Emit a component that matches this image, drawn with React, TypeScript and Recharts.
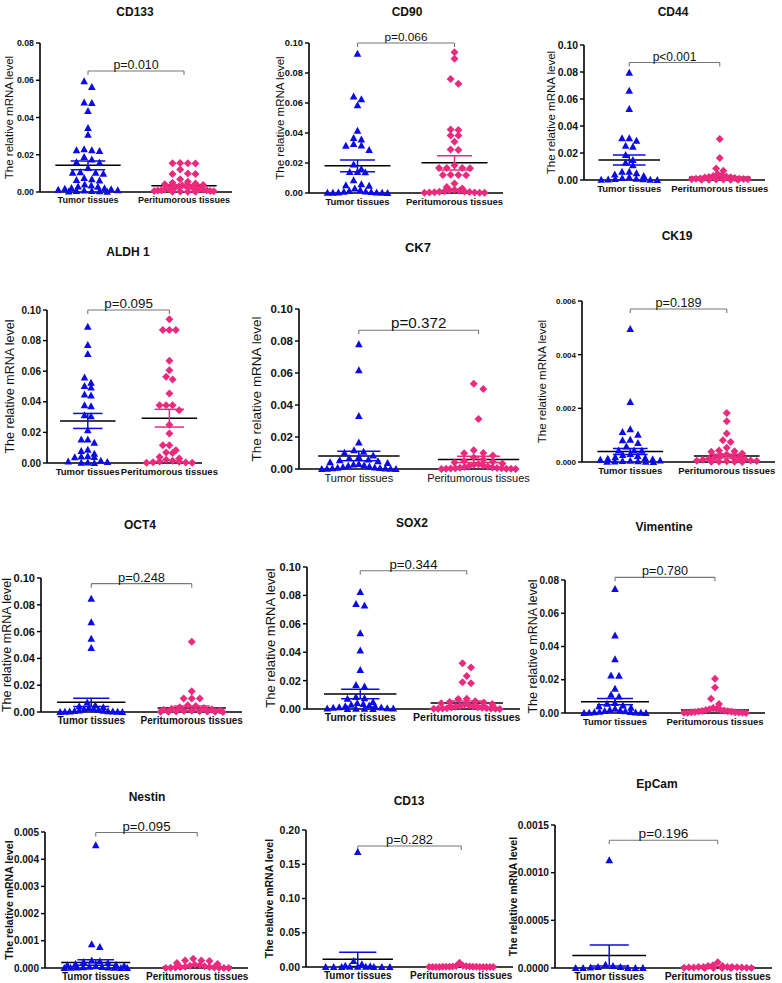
import React from "react";
import { ScatterChart, Scatter, XAxis, YAxis, ReferenceLine } from "recharts";

const groups = ["Tumor tissues", "Peritumorous tissues"];
const BLUE = "#0b0be8";
const PINK = "#ec2a7d";

// values (relative mRNA level)
const cd133Tumor = [0.0594, 0.0564, 0.0478, 0.048, 0.0435, 0.0344, 0.0308, 0.0224, 0.022, 0.0224, 0.0229, 0.0188, 0.0174, 0.016, 0.0157, 0.0129, 0.0106, 0.0098, 0.0104, 0.0104, 0.0075, 0.0065, 0.0068, 0.0062, 0.004, 0.0035, 0.003, 0.0028, 0.0022, 0.002, 0.0018, 0.0015, 0.0012, 0.001, 0.0008, 0.0006, 0.0005, 0.0004, 0.0003, 0.0002];
const cd133Peri = [0.0156, 0.0155, 0.0153, 0.0154, 0.0121, 0.0099, 0.0097, 0.0096, 0.0068, 0.0055, 0.005, 0.0046, 0.0042, 0.0038, 0.0035, 0.0032, 0.003, 0.0028, 0.0026, 0.0024, 0.0022, 0.002, 0.0018, 0.0016, 0.0014, 0.0012, 0.001, 0.0009, 0.0008, 0.0006, 0.0005, 0.0004, 0.0003, 0.0002, 0.0001, 0.0001];
const cd90Tumor = [0.0929, 0.0643, 0.0625, 0.0585, 0.0415, 0.0366, 0.0357, 0.0326, 0.0317, 0.0315, 0.0286, 0.019, 0.016, 0.014, 0.014, 0.0138, 0.0085, 0.0058, 0.0051, 0.0048, 0.003, 0.002, 0.0015, 0.001, 0.0008, 0.0006, 0.0004, 0.0003, 0.0002, 0.0001, 0.0001, 0];
const cd90Peri = [0.0938, 0.0895, 0.076, 0.0728, 0.0424, 0.042, 0.0384, 0.0384, 0.0342, 0.029, 0.0286, 0.0185, 0.0167, 0.0167, 0.0165, 0.0166, 0.012, 0.0121, 0.0119, 0.012, 0.0063, 0.004, 0.003, 0.0022, 0.0018, 0.0015, 0.0012, 0.001, 0.0008, 0.0006, 0.0005, 0.0004, 0.0003, 0.0002, 0.0001, 0.0001];
const cd44Tumor = [0.0795, 0.0662, 0.0526, 0.0309, 0.0309, 0.029, 0.0254, 0.0247, 0.0185, 0.0148, 0.0128, 0.0109, 0.0062, 0.0062, 0.005, 0.004, 0.003, 0.002, 0.0015, 0.001, 0.0008, 0.0005, 0.0003, 0.0002, 0.0001, 0];
const cd44Peri = [0.0304, 0.0163, 0.0086, 0.0069, 0.0044, 0.0035, 0.003, 0.0026, 0.0022, 0.002, 0.0018, 0.0015, 0.0012, 0.001, 0.0009, 0.0008, 0.0006, 0.0005, 0.0004, 0.0003, 0.0002, 0.0002, 0.0001, 0.0001];
const aldh1Tumor = [0.0891, 0.0771, 0.0712, 0.0559, 0.0524, 0.0504, 0.0493, 0.0448, 0.0441, 0.0378, 0.0371, 0.0312, 0.0305, 0.0214, 0.0153, 0.0153, 0.0133, 0.0087, 0.0079, 0.0061, 0.0044, 0.0042, 0.004, 0.0038, 0.0015, 0.001, 0.0006, 0.0003, 0.0001, 0];
const aldh1Peri = [0.0939, 0.0869, 0.0869, 0.0869, 0.0668, 0.0607, 0.0563, 0.0546, 0.0454, 0.0378, 0.0378, 0.0378, 0.0345, 0.025, 0.0192, 0.0116, 0.0116, 0.0083, 0.0068, 0.0066, 0.004, 0.003, 0.0022, 0.0015, 0.001, 0.0008, 0.0005, 0.0003, 0.0002, 0.0001];
const ck7Tumor = [0.078, 0.0617, 0.0331, 0.0165, 0.0117, 0.0108, 0.0102, 0.0085, 0.0075, 0.0068, 0.006, 0.0055, 0.0048, 0.0042, 0.0038, 0.0032, 0.0028, 0.0024, 0.002, 0.0016, 0.0012, 0.001, 0.0008, 0.0006, 0.0004, 0.0003, 0.0002, 0.0001, 0, 0];
const ck7Peri = [0.0533, 0.05, 0.0313, 0.0117, 0.01, 0.0098, 0.0085, 0.0072, 0.006, 0.0052, 0.0045, 0.004, 0.0035, 0.003, 0.0026, 0.0022, 0.0018, 0.0015, 0.0012, 0.001, 0.0008, 0.0006, 0.0005, 0.0004, 0.0003, 0.0002, 0.0001, 0.0001, 0, 0];
const ck19Tumor = [0.00496, 0.00224, 0.00122, 0.00112, 0.00102, 0.00083, 0.00081, 0.00071, 0.00058, 0.00043, 0.00043, 0.00042, 0.0003, 0.00026, 0.00022, 0.00018, 0.00015, 0.00012, 0.0001, 0.00008, 0.00006, 0.00005, 0.00004, 0.00003, 0.00002, 0.00001, 0.00001, 0];
const ck19Peri = [0.00183, 0.00152, 0.00106, 0.00081, 0.00075, 0.00053, 0.00043, 0.0004, 0.00038, 0.00032, 0.00028, 0.00024, 0.0002, 0.00017, 0.00014, 0.00012, 0.0001, 0.00008, 0.00006, 0.00005, 0.00004, 0.00003, 0.00002, 0.00001, 0.00001, 0];
const oct4Tumor = [0.0846, 0.0669, 0.0547, 0.0478, 0.007, 0.005, 0.0042, 0.0035, 0.003, 0.0025, 0.002, 0.0016, 0.0012, 0.001, 0.0008, 0.0006, 0.0004, 0.0003, 0.0002, 0.0001, 0, 0];
const oct4Peri = [0.0525, 0.0154, 0.01, 0.01, 0.01, 0.005, 0.0045, 0.0035, 0.003, 0.0025, 0.002, 0.0016, 0.0012, 0.001, 0.0008, 0.0006, 0.0004, 0.0003, 0.0002, 0.0001, 0.0001, 0];
const sox2Tumor = [0.0824, 0.0739, 0.0729, 0.0534, 0.0412, 0.0275, 0.0169, 0.0158, 0.0085, 0.0075, 0.0072, 0.005, 0.0042, 0.0035, 0.003, 0.0025, 0.002, 0.0016, 0.0012, 0.001, 0.0008, 0.0006, 0.0004, 0.0003, 0.0002, 0.0001, 0, 0];
const sox2Peri = [0.0322, 0.0292, 0.0233, 0.0188, 0.0181, 0.0072, 0.007, 0.0055, 0.005, 0.0045, 0.004, 0.0035, 0.003, 0.0026, 0.0022, 0.0018, 0.0015, 0.0012, 0.001, 0.0008, 0.0006, 0.0005, 0.0004, 0.0003, 0.0002, 0.0001, 0.0001, 0];
const vimTumor = [0.0746, 0.0466, 0.0324, 0.0226, 0.0224, 0.0146, 0.011, 0.01, 0.006, 0.0055, 0.0045, 0.004, 0.0032, 0.0026, 0.002, 0.0016, 0.0012, 0.001, 0.0008, 0.0006, 0.0004, 0.0003, 0.0002, 0.0001, 0, 0];
const vimPeri = [0.0206, 0.0154, 0.0086, 0.0054, 0.003, 0.0025, 0.0022, 0.002, 0.0018, 0.0015, 0.0012, 0.001, 0.0009, 0.0008, 0.0006, 0.0005, 0.0004, 0.0003, 0.0002, 0.0001, 0.0001, 0];
const nestinTumor = [0.00451, 0.00087, 0.00077, 0.00028, 0.00025, 0.00022, 0.00018, 0.00015, 0.00012, 0.0001, 0.00008, 0.00006, 0.00005, 0.00004, 0.00003, 0.00002, 0.00002, 0.00001, 0.00001, 0, 0, 0];
const nestinPeri = [0.00034, 0.00028, 0.00028, 0.00026, 0.00018, 0.00015, 0.00012, 0.0001, 0.00008, 0.00006, 0.00005, 0.00004, 0.00003, 0.00002, 0.00002, 0.00001, 0.00001, 0, 0, 0];
const cd13Tumor = [0.168, 0.0088, 0.004, 0.002, 0.001, 0.0005, 0.0003, 0.0002, 0.0001, 0, 0, 0, 0, 0];
const cd13Peri = [0.0063, 0.002, 0.0015, 0.001, 0.0008, 0.0006, 0.0005, 0.0004, 0.0003, 0.0002, 0.0002, 0.0001, 0.0001, 0.0001, 0, 0, 0, 0, 0, 0];
const epcamTumor = [0.00113, 0.000035, 0.00002, 0.00001, 0.00001, 0.000005, 0, 0, 0, 0, 0];
const epcamPeri = [0.00006, 0.00003, 0.00002, 0.00002, 0.00001, 0.00001, 0.00001, 0.00001, 0.000008, 0.000006, 0.000005, 0.000004, 0.000003, 0.000002, 0.000001, 0, 0, 0, 0];

// mean and SEM per group [tumor, peri], as drawn
const cd133Mean = [0.0143, 0.0034], cd133Sem = [0.0024, 0.0005];
const cd90Mean = [0.0181, 0.0201], cd90Sem = [0.0039, 0.0047];
const cd44Mean = [0.0148, 0.002], cd44Sem = [0.0037, 0.0009];
const aldh1Mean = [0.0275, 0.0293], aldh1Sem = [0.0049, 0.0058];
const ck7Mean = [0.0081, 0.006], ck7Sem = [0.003, 0.0019];
const ck19Mean = [0.00039, 0.00022], ck19Sem = [0.00011, 0.00007];
const oct4Mean = [0.0072, 0.003], oct4Sem = [0.0031, 0.0015];
const sox2Mean = [0.0106, 0.0042], sox2Sem = [0.0033, 0.0015];
const vimMean = [0.0068, 0.0018], vimSem = [0.0019, 0.0005];
const nestinMean = [0.0002, 0.00005], nestinSem = [0.0001, 0.00002];
const cd13Mean = [0.0112, 0.0007], cd13Sem = [0.0103, 0.0003];
const epcamMean = [0.00013, 0.00001], epcamSem = [0.00011, 0.000004];

// y ticks
const ticks08 = [0, 0.02, 0.04, 0.06, 0.08];
const ticks10 = [0, 0.02, 0.04, 0.06, 0.08, 0.1];
const ticksCk19 = [0, 0.002, 0.004, 0.006];
const ticksNestin = [0, 0.001, 0.002, 0.003, 0.004, 0.005];
const ticksCd13 = [0, 0.05, 0.1, 0.15, 0.2];
const ticksEpcam = [0, 0.0005, 0.001, 0.0015];

const pTexts = ["p=0.010", "p=0.066", "p<0.001", "p=0.095", "p=0.372", "p=0.189", "p=0.248", "p=0.344", "p=0.780", "p=0.095", "p=0.282", "p=0.196"];
const bracketAt = [0.065, 0.1, 0.087, 0.1, 0.0867, 0.0057, 0.0958, 0.0974, 0.0816, 0.00498, 0.1766, 0.00134];

type Panel = {
  title: string; tumor: number[]; peri: number[]; mean: number[]; sem: number[]; ticks: number[]; dec: number;
  axL: number; axT: number; axR: number; axB: number; xMax?: number;
  tx: number; ty: number; tFont?: number; lx: number; lFont: number; lBold?: boolean;
  tickFont: number; xFont: number; xBold?: boolean; pFont: number;
};

const panels: Panel[] = [
  { title: "CD133", tumor: cd133Tumor, peri: cd133Peri, mean: cd133Mean, sem: cd133Sem, ticks: ticks08, dec: 2, axL: 40, axT: 43, axR: 232, axB: 192, tx: 135, ty: 12, lx: 9, lFont: 11.5, tickFont: 8.8, xFont: 9, xBold: true, pFont: 12.4 },
  { title: "CD90", tumor: cd90Tumor, peri: cd90Peri, mean: cd90Mean, sem: cd90Sem, ticks: ticks10, dec: 2, axL: 309, axT: 43, axR: 503, axB: 193, tx: 407, ty: 12, lx: 280, lFont: 11.5, tickFont: 9.4, xFont: 9.5, xBold: true, pFont: 11.8 },
  { title: "CD44", tumor: cd44Tumor, peri: cd44Peri, mean: cd44Mean, sem: cd44Sem, ticks: ticks10, dec: 2, axL: 584, axT: 45, axR: 765, axB: 180, tx: 673, ty: 12, lx: 551, lFont: 11.5, tickFont: 10.4, xFont: 9.5, xBold: true, pFont: 12 },
  { title: "ALDH 1", tumor: aldh1Tumor, peri: aldh1Peri, mean: aldh1Mean, sem: aldh1Sem, ticks: ticks10, dec: 2, axL: 47, axT: 310, axR: 202, axB: 463, xMax: 2.4, tx: 128, ty: 252, lx: 10, lFont: 12.5, tickFont: 10, xFont: 9.5, xBold: true, pFont: 13.4 },
  { title: "CK7", tumor: ck7Tumor, peri: ck7Peri, mean: ck7Mean, sem: ck7Sem, ticks: ticks10, dec: 2, axL: 299, axT: 309, axR: 518, axB: 469, xMax: 2.33, tx: 418, ty: 247, tFont: 13, lx: 256, lFont: 13.5, tickFont: 11.5, xFont: 11, pFont: 15.2 },
  { title: "CK19", tumor: ck19Tumor, peri: ck19Peri, mean: ck19Mean, sem: ck19Sem, ticks: ticksCk19, dec: 3, axL: 582, axT: 301, axR: 775, axB: 462, tx: 677, ty: 236, lx: 542, lFont: 11.5, tickFont: 8, xFont: 9.5, xBold: true, pFont: 12.6 },
  { title: "OCT4", tumor: oct4Tumor, peri: oct4Peri, mean: oct4Mean, sem: oct4Sem, ticks: ticks10, dec: 2, axL: 41, axT: 578, axR: 242, axB: 712, tx: 140, ty: 525, lx: 7, lFont: 12.5, tickFont: 11, xFont: 10, xBold: true, pFont: 12.9 },
  { title: "SOX2", tumor: sox2Tumor, peri: sox2Peri, mean: sox2Mean, sem: sox2Sem, ticks: ticks10, dec: 2, axL: 307, axT: 567, axR: 520, axB: 709, tx: 412, ty: 523, lx: 270, lFont: 13, tickFont: 11, xFont: 10.5, xBold: true, pFont: 13.2 },
  { title: "Vimentine", tumor: vimTumor, peri: vimPeri, mean: vimMean, sem: vimSem, ticks: ticks08, dec: 2, axL: 565, axT: 580, axR: 765, axB: 713, tx: 664, ty: 527, lx: 533, lFont: 12.5, tickFont: 10, xFont: 9.5, xBold: true, pFont: 12.6 },
  { title: "Nestin", tumor: nestinTumor, peri: nestinPeri, mean: nestinMean, sem: nestinSem, ticks: ticksNestin, dec: 3, axL: 45, axT: 832, axR: 248, axB: 968, tx: 147, ty: 797, lx: 8.5, lFont: 10.5, lBold: true, tickFont: 10, xFont: 10, xBold: true, pFont: 13.2 },
  { title: "CD13", tumor: cd13Tumor, peri: cd13Peri, mean: cd13Mean, sem: cd13Sem, ticks: ticksCd13, dec: 2, axL: 306, axT: 830, axR: 513, axB: 967, tx: 409, ty: 801, lx: 269, lFont: 10.5, lBold: true, tickFont: 10.5, xFont: 10, xBold: true, pFont: 12.9 },
  { title: "EpCam", tumor: epcamTumor, peri: epcamPeri, mean: epcamMean, sem: epcamSem, ticks: ticksEpcam, dec: 4, axL: 555, axT: 825, axR: 772, axB: 968, tx: 657, ty: 784, lx: 513, lFont: 10.5, lBold: true, tickFont: 10.2, xFont: 10.4, xBold: true, pFont: 13.7 },
];

// spread points sideways like a column scatter: values close in y share a row
function spread(values: number[], center: number, yMax: number) {
  const sorted = [...values].sort((a, b) => b - a);
  const rows: number[][] = [];
  sorted.forEach((v) => {
    const last = rows[rows.length - 1];
    if (last && last[0] - v < yMax * 0.04) last.push(v);
    else rows.push([v]);
  });
  const pts: { x: number; y: number }[] = [];
  rows.forEach((row) => {
    const n = row.length;
    const step = n > 1 ? Math.min(0.08, 0.62 / (n - 1)) : 0;
    const slots = row.map((_, i) => (i - (n - 1) / 2) * step).sort((a, b) => Math.abs(a) - Math.abs(b));
    row.forEach((v, i) => pts.push({ x: center + slots[i], y: v }));
  });
  return pts;
}

const Triangle = (props: any) => {
  const { cx, cy } = props;
  return <polygon points={`${cx},${cy - 4} ${cx - 3.8},${cy + 3} ${cx + 3.8},${cy + 3}`} fill={BLUE} />;
};

const Diamond = (props: any) => {
  const { cx, cy } = props;
  return <polygon points={`${cx},${cy - 4} ${cx + 4},${cy} ${cx},${cy + 4} ${cx - 4},${cy}`} fill={PINK} />;
};

const BLACK = "#000";

function Plot({ p, idx }: { p: Panel; idx: number }) {
  const YW = 46, MT = 36, XH = 24, MR = 40;
  const yMax = p.ticks[p.ticks.length - 1];
  const w = p.axR - p.axL + YW + MR;
  const h = p.axB - p.axT + MT + XH;
  const tumorPts = spread(p.tumor, 1, yMax);
  const periPts = spread(p.peri, 2, yMax);
  const drop = (yMax * 4) / (p.axB - p.axT);
  const b = bracketAt[idx];
  const colors = [BLUE, PINK];
  return (
    <div style={{ position: "absolute", left: p.axL - YW, top: p.axT - MT }}>
      <ScatterChart width={w} height={h} margin={{ top: MT, right: MR, bottom: 0, left: 0 }}>
        <XAxis
          type="number"
          dataKey="x"
          domain={[0.5, p.xMax ?? 2.5]}
          ticks={[1, 2]}
          interval={0}
          tickFormatter={(v) => groups[v - 1]}
          tickLine={false}
          tickSize={3}
          height={XH}
          axisLine={{ stroke: BLACK, strokeWidth: 1.6 }}
          tick={{ fill: "#111", fontSize: p.xFont, fontWeight: p.xBold ? 700 : 400 }}
        />
        <YAxis
          type="number"
          dataKey="y"
          domain={[0, yMax]}
          ticks={p.ticks}
          interval={0}
          tickFormatter={(v) => Number(v).toFixed(p.dec)}
          width={YW}
          tickSize={4}
          axisLine={{ stroke: BLACK, strokeWidth: 1.6 }}
          tickLine={{ stroke: BLACK, strokeWidth: 1.4 }}
          tick={{ fill: "#111", fontSize: p.tickFont, fontWeight: 700 }}
        />
        <Scatter data={tumorPts} fill={BLUE} shape={<Triangle />} isAnimationActive={false} />
        <Scatter data={periPts} fill={PINK} shape={<Diamond />} isAnimationActive={false} />
        {[1, 2].map((g, i) => (
          <ReferenceLine key={"m" + g} segment={[{ x: g - 0.34, y: p.mean[i] }, { x: g + 0.34, y: p.mean[i] }]} stroke={BLACK} strokeWidth={1.5} ifOverflow="visible" />
        ))}
        {[1, 2].map((g, i) => (
          <ReferenceLine key={"su" + g} segment={[{ x: g - 0.18, y: p.mean[i] + p.sem[i] }, { x: g + 0.18, y: p.mean[i] + p.sem[i] }]} stroke={colors[i]} strokeWidth={1.5} ifOverflow="visible" />
        ))}
        {[1, 2].map((g, i) => (
          <ReferenceLine key={"sl" + g} segment={[{ x: g - 0.18, y: Math.max(0, p.mean[i] - p.sem[i]) }, { x: g + 0.18, y: Math.max(0, p.mean[i] - p.sem[i]) }]} stroke={colors[i]} strokeWidth={1.5} ifOverflow="visible" />
        ))}
        {[1, 2].map((g, i) => (
          <ReferenceLine key={"sv" + g} segment={[{ x: g, y: Math.max(0, p.mean[i] - p.sem[i]) }, { x: g, y: p.mean[i] + p.sem[i] }]} stroke={colors[i]} strokeWidth={1.5} ifOverflow="visible" />
        ))}
        <ReferenceLine
          segment={[{ x: 1, y: b }, { x: 2, y: b }]}
          stroke="#777"
          strokeWidth={1.1}
          ifOverflow="visible"
          label={{ value: pTexts[idx], position: "top", fill: "#111", fontSize: p.pFont, offset: 2 }}
        />
        <ReferenceLine segment={[{ x: 1, y: b - drop }, { x: 1, y: b }]} stroke="#777" strokeWidth={1.1} ifOverflow="visible" />
        <ReferenceLine segment={[{ x: 2, y: b - drop }, { x: 2, y: b }]} stroke="#777" strokeWidth={1.1} ifOverflow="visible" />
      </ScatterChart>
    </div>
  );
}

export default function App() {
  return (
    <div
      style={{
        position: "absolute",
        left: 0,
        top: 0,
        width: 782,
        height: 983,
        background: "#fff",
        fontFamily: "'Liberation Sans', Arial, sans-serif",
      }}
    >
      {panels.map((p, i) => (
        <Plot key={p.title} p={p} idx={i} />
      ))}
      <svg width={782} height={983} style={{ position: "absolute", left: 0, top: 0, pointerEvents: "none" }}>
        {panels.map((p) => (
          <g key={p.title}>
            <text x={p.tx} y={p.ty} textAnchor="middle" dominantBaseline="central" fontSize={p.tFont ?? 12} fontWeight={700} fill="#111">
              {p.title}
            </text>
            <text
              x={p.lx}
              y={(p.axT + p.axB) / 2}
              transform={`rotate(-90 ${p.lx} ${(p.axT + p.axB) / 2})`}
              textAnchor="middle"
              dominantBaseline="central"
              fontSize={p.lFont}
              fontWeight={p.lBold ? 700 : 400}
              fill="#111"
            >
              The relative mRNA level
            </text>
          </g>
        ))}
      </svg>
    </div>
  );
}
